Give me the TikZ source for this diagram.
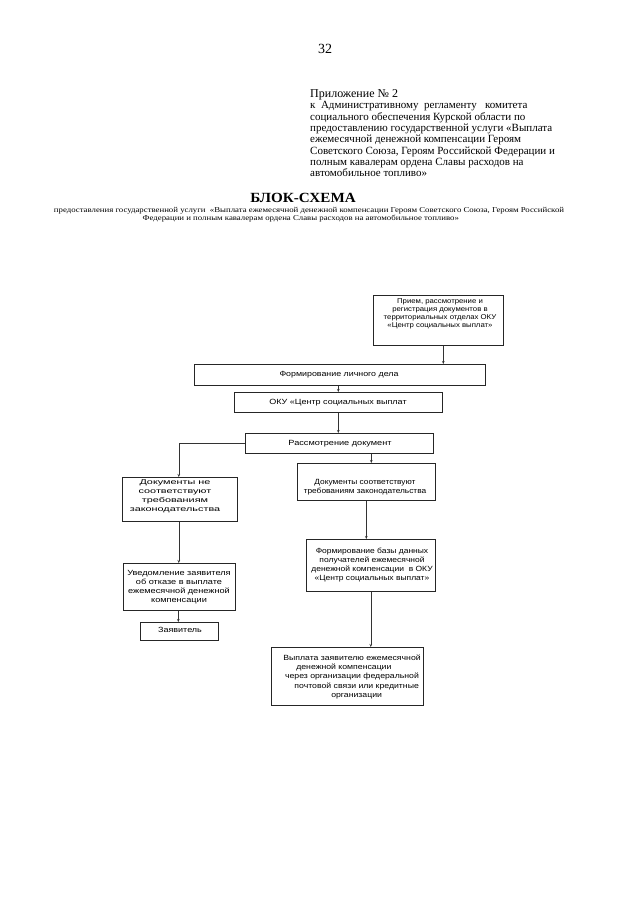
\documentclass[tikz,border=0pt]{standalone}
\usepackage{fontspec}
\usepackage{graphicx}
\setmainfont{Liberation Serif}
\newfontfamily\boxfont{Liberation Sans}
\usetikzlibrary{arrows.meta}
\setlength{\tabcolsep}{0pt}
\tikzset{
  blk/.style={draw=black!85, line width=0.6pt, inner sep=0pt, anchor=north west},
  txt/.style={inner sep=0pt, anchor=base},
  conn/.style={draw=black!80, line width=0.6pt, -{Stealth[length=3pt,width=2.6pt]}},
}
% #1 size, #2 skip, #3 hscale, #4 lines
\newcommand{\btext}[4]{\scalebox{#3}[1]{\boxfont\fontsize{#1}{#2}\selectfont\begin{tabular}[t]{c}#4\end{tabular}}}
\begin{document}
\begin{tikzpicture}[x=1pt,y=-1pt]
\useasboundingbox (0,0) rectangle (640,905);
\node[txt, font=\fontsize{14}{16}\selectfont] (pg) at (325,53) {32};
\node[anchor=base west, inner sep=0pt] (app) at (310,97) {\fontsize{11}{11.33}\selectfont\begin{tabular}[t]{l}
\fontsize{12}{12}\selectfont Приложение № 2\\[0.6pt]
к\ \ Административному\ \ регламенту\ \ \ комитета\\
социального обеспечения Курской области по\\
предоставлению государственной услуги «Выплата\\
ежемесячной денежной компенсации Героям\\
Советского Союза, Героям Российской Федерации и\\
полным кавалерам ордена Славы расходов на\\
автомобильное топливо»\end{tabular}};
\node[txt] (title) at (303,202) {\scalebox{1.08}[1]{\bfseries\fontsize{14}{16}\selectfont БЛОК-СХЕМА}};
\node[txt] (sub) at (309,212.5) {\scalebox{1.17}[1]{\fontsize{7.5}{8.2}\selectfont\begin{tabular}[t]{c}предоставления государственной услуги\ \ «Выплата ежемесячной денежной компенсации Героям Советского Союза, Героям Российской\\
Федерации и полным кавалерам ордена Славы расходов на автомобильное топливо»\hspace*{14pt}\end{tabular}}};

% boxes
\node[blk, minimum width=130pt, minimum height=50pt] (b1) at (373,295) {};
\node[blk, minimum width=291pt, minimum height=21pt] (b2) at (194,364) {};
\node[blk, minimum width=208pt, minimum height=20pt] (b3) at (234,392) {};
\node[blk, minimum width=188pt, minimum height=20pt] (b4) at (245,433) {};
\node[blk, minimum width=115pt, minimum height=44pt] (b5) at (122,477) {};
\node[blk, minimum width=138pt, minimum height=37pt] (b6) at (297,463) {};
\node[blk, minimum width=129pt, minimum height=52pt] (b7) at (306,539) {};
\node[blk, minimum width=112pt, minimum height=47pt] (b8) at (123,563) {};
\node[blk, minimum width=78pt, minimum height=18pt] (b9) at (140,622) {};
\node[blk, minimum width=152pt, minimum height=58pt] (b10) at (271,647) {};

% texts
\node[txt] (t1) at (440,303.5) {\btext{7}{8}{1.11}{Прием, рассмотрение и\\регистрация документов в\\территориальных отделах ОКУ\\«Центр социальных выплат»}};
\node[txt] (t2) at (339,376.5) {\btext{7.5}{9}{1.18}{Формирование личного дела}};
\node[txt] (t3) at (338,404.5) {\btext{7.5}{9}{1.2}{ОКУ «Центр социальных выплат}};
\node[txt] (t4) at (340,445.5) {\btext{7.5}{9}{1.22}{Рассмотрение документ}};
\node[txt] (t5) at (175,484.5) {\btext{7}{9}{1.55}{Документы не\\соответствуют\\требованиям\\законодательства}};
\node[txt] (t6) at (365,484.5) {\btext{7.5}{9}{1.11}{Документы соответствуют\\требованиям законодательства}};
\node[txt] (t7) at (372,553.5) {\btext{7.5}{9}{1.13}{Формирование базы данных\\получателей ежемесячной\\денежной компенсации\ \ в ОКУ\\«Центр социальных выплат»}};
\node[txt] (t8) at (179,575.5) {\btext{7.5}{9}{1.22}{Уведомление заявителя\\об отказе в выплате\\ежемесячной денежной\\компенсации}};
\node[txt] (t9) at (180,632.5) {\btext{7.5}{9}{1.2}{Заявитель}};
\node[txt] (t10) at (352,660.5) {\btext{7.5}{9.2}{1.16}{Выплата заявителю ежемесячной\\денежной компенсации\hspace*{14pt}\\через организации федеральной\\\hspace*{8pt}почтовой связи или кредитные\\\hspace*{8pt}организации}};

% connectors
\draw[conn] ([xshift=5pt]b1.south) -- ([xshift=5pt]b1.south |- b2.north);
\draw[conn] (b2.south -| b3.north) -- (b3.north);
\draw[conn] (b3.south) -- (b3.south |- b4.north);
\draw[conn] (b4.west) -| ([xshift=-1pt]b5.north);
\draw[conn] ([xshift=5pt]b6.north |- b4.south) -- ([xshift=5pt]b6.north);
\draw[conn] (b6.south) -- (b6.south |- b7.north);
\draw[conn] ([xshift=-1pt]b5.south) -- ([xshift=-1pt]b5.south |- b8.north);
\draw[conn] ([xshift=-1pt]b8.south) -- ([xshift=-1pt]b8.south |- b9.north);
\draw[conn] (b7.south) -- (b7.south |- b10.north);
\end{tikzpicture}
\end{document}
